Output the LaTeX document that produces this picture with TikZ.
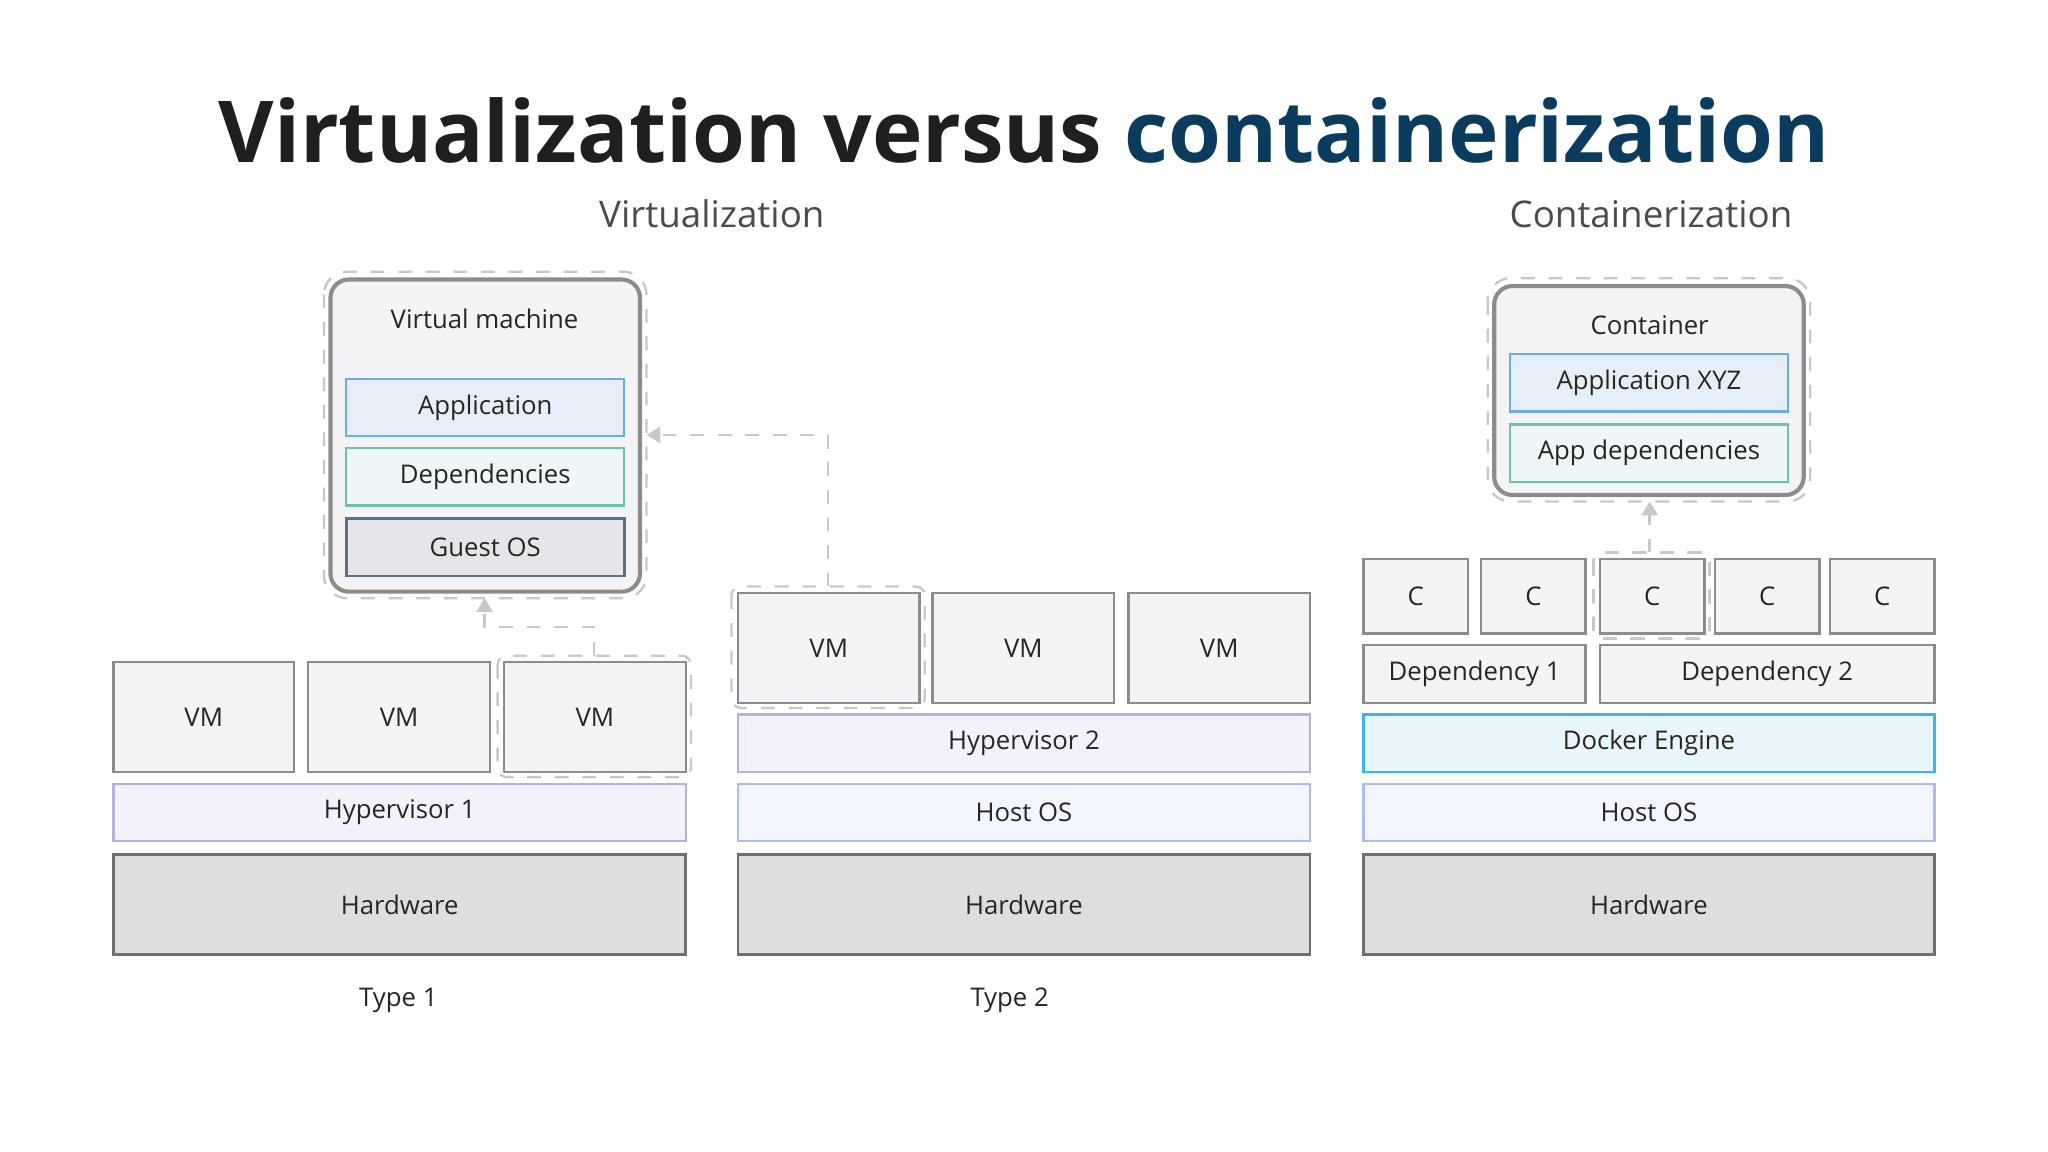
\documentclass[tikz,border=0pt]{standalone}
\usepackage{fontspec}
\setmainfont{Open Sans}
\usetikzlibrary{positioning,calc,arrows.meta}
\definecolor{navy}{HTML}{0B3C5D}
\definecolor{vmfill}{HTML}{F4F4F6}
\definecolor{vmline}{HTML}{8C8C8C}
\definecolor{hypfill}{HTML}{F3F2FC}
\definecolor{hypline}{HTML}{B9B0E2}
\definecolor{osfill}{HTML}{F3F6FE}
\definecolor{osline}{HTML}{AEBCEC}
\definecolor{hwfill}{HTML}{DEDDDF}
\definecolor{hwline}{HTML}{6F6F6F}
\definecolor{dockfill}{HTML}{E8F6FC}
\definecolor{dockline}{HTML}{3DB5E6}
\definecolor{appfill}{HTML}{E6EFF8}
\definecolor{appline}{HTML}{6AAEE0}
\definecolor{depfill}{HTML}{EEF6F8}
\definecolor{depline}{HTML}{6CC3A8}
\definecolor{gosfill}{HTML}{E4E6EA}
\definecolor{gosline}{HTML}{5F6F87}
\definecolor{dash}{HTML}{C8C8C8}
\tikzset{
  lbl/.style={font=\fontsize{5.6}{7}\selectfont, text=black!85},
  vm/.style={draw=vmline, fill=vmfill, line width=0.5pt},
  hyp/.style={draw=hypline, fill=hypfill, line width=0.5pt},
  os/.style={draw=osline, fill=osfill, line width=0.5pt},
  hw/.style={draw=hwline, fill=hwfill, line width=0.6pt},
  dock/.style={draw=dockline, fill=dockfill, line width=0.6pt},
  app/.style={draw=appline, fill=appfill, line width=0.5pt},
  dep/.style={draw=depline, fill=depfill, line width=0.5pt},
  gos/.style={draw=gosline, fill=gosfill, line width=0.6pt},
  hilite/.style={draw=dash, dashed, line width=0.5pt, rounded corners=2pt},
  link/.style={draw=dash, dashed, line width=0.5pt, -{Triangle[length=3pt,width=3.5pt]}}
}
% box from corner to corner, with a named centre label
\newcommand{\layer}[5]{%
  \draw[#1] (#2) rectangle (#3);
  \node[lbl] (#4) at ($(#2)!0.5!(#3)$) {#5};}
\begin{document}
\begin{tikzpicture}[x=0.01cm,y=-0.01cm]
\useasboundingbox[fill=white] (0,0) rectangle (1568,882);

% Titles
\node[font=\fontsize{18.6}{22}\selectfont\bfseries, text=black!88] (title) at (784,100)
  {Virtualization versus \textcolor{navy}{containerization}};
\node[font=\fontsize{8}{10}\selectfont, text=black!70] (virt) at (545,164) {Virtualization};
\node[font=\fontsize{8}{10}\selectfont, text=black!70] (cont) at (1264,164) {Containerization};

% Type 1
\layer{vm}{87,507}{225,591}{t1vma}{VM}
\layer{vm}{236,507}{375,591}{t1vmb}{VM}
\layer{vm}{386,507}{525,591}{t1vmc}{VM}
\layer{hyp}{87,600}{525,644}{hyp1}{Hypervisor 1}
\layer{hw}{87,654}{525,731}{hw1}{Hardware}
\node[lbl] (type1) at (305,766) {Type 1};
\draw[hilite] (381,502) rectangle (529,595);

% Type 2
\layer{vm}{565,454}{704,538}{t2vma}{VM}
\layer{vm}{714,454}{853,538}{t2vmb}{VM}
\layer{vm}{864,454}{1003,538}{t2vmc}{VM}
\layer{hyp}{565,547}{1003,591}{hyp2}{Hypervisor 2}
\layer{os}{565,600}{1003,644}{os2}{Host OS}
\layer{hw}{565,654}{1003,731}{hw2}{Hardware}
\node[lbl] (type2) at (773,766) {Type 2};
\draw[hilite] (560,449) rectangle (708,542);

% Virtual machine detail
\draw[hilite, rounded corners=5pt] (248,208) rectangle (495,458);
\draw[vm, line width=0.9pt, rounded corners=4pt] (253,214) rectangle (490,453);
\node[lbl] (vmtitle) at (371,244) {Virtual machine};
\layer{app}{265,290}{478,334}{vmapp}{Application}
\layer{dep}{265,343}{478,387}{vmdep}{Dependencies}
\layer{gos}{265,397}{478,441}{vmgos}{Guest OS}

% Containers
\foreach \xa/\xb [count=\i] in {1044/1124,1134/1214,1225/1305,1313/1393,1401/1481}
  \layer{vm}{\xa,428}{\xb,485}{c\i}{C}
\layer{vm}{1044,494}{1214,538}{dep1}{Dependency 1}
\layer{vm}{1225,494}{1481,538}{dep2}{Dependency 2}
\layer{dock}{1044,547}{1481,591}{docker}{Docker Engine}
\layer{os}{1044,600}{1481,644}{os3}{Host OS}
\layer{hw}{1044,654}{1481,731}{hw3}{Hardware}
\draw[hilite] (1220,423) rectangle (1309,489);

% Container detail
\draw[hilite, rounded corners=5pt] (1139,213) rectangle (1386,384);
\draw[vm, line width=0.9pt, rounded corners=4pt] (1144,219) rectangle (1381,379);
\node[lbl] (ctitle) at (1263,249) {Container};
\layer{app}{1156,271}{1369,315}{capp}{Application XYZ}
\layer{dep}{1156,325}{1369,369}{cdep}{App dependencies}

% Links
\coordinate (a1) at (455,502);
\coordinate (a2) at (371,458);
\draw[link] (a1) |- (371,480) -- (a2);
\coordinate (b1) at (634,449);
\coordinate (b2) at (495,333);
\draw[link] (b1) |- (b2);
\coordinate (d1) at (1263,423);
\coordinate (d2) at (1263,384);
\draw[link] (d1) -- (d2);
\end{tikzpicture}
\end{document}
